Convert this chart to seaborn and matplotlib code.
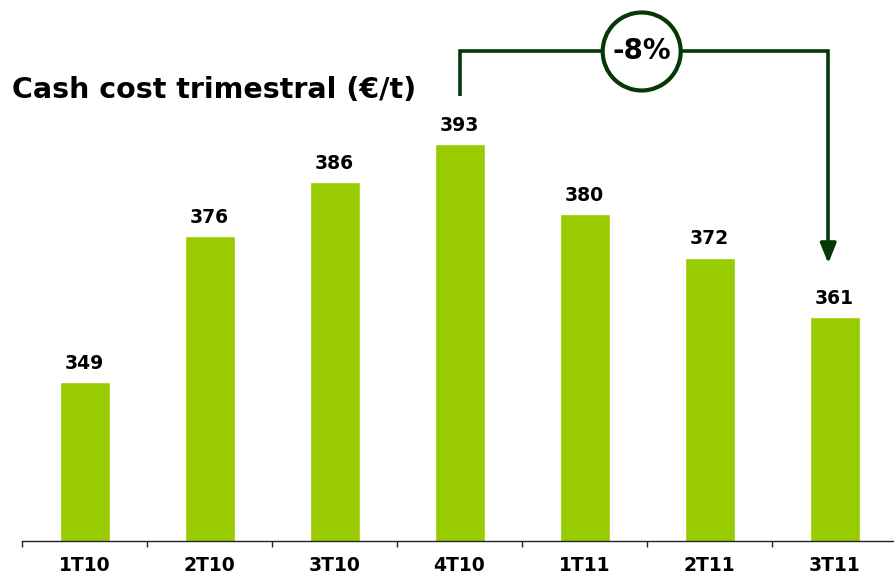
import matplotlib
matplotlib.use("Agg")
import matplotlib.pyplot as plt
import matplotlib.patches as mpatches
from matplotlib.transforms import ScaledTranslation, IdentityTransform
import seaborn as sns
import pandas as pd

quarters = ["1T10", "2T10", "3T10", "4T10", "1T11", "2T11", "3T11"]
cash_cost = [349, 376, 386, 393, 380, 372, 361]
change_label = "-8%"
title = "Cash cost trimestral (€/t)"

BAR = "#99CC00"
DARK = "#063806"

sns.set_theme(style="white")
plt.rcParams['font.family'] = ['DejaVu Sans']

df = pd.DataFrame({"q": quarters, "v": cash_cost})

W, H = 894, 575
fig = plt.figure(figsize=(W / 100, H / 100), dpi=100)
ax = fig.add_axes([22 / W, 34 / H, 872 / W, 541 / H])

sns.barplot(data=df, x="q", y="v", color=BAR, width=0.4, saturation=1, ax=ax, zorder=2)

ax.set_xlim(-0.5, -0.5 + 872 / 125)
ax.set_ylim(319.6, 319.6 + 541 / 5.409)
ax.set_xlabel("")
ax.set_ylabel("")
ax.set_yticks([])
for s in ["top", "right", "left"]:
    ax.spines[s].set_visible(False)
ax.spines["bottom"].set_color("#222222")
ax.spines["bottom"].set_linewidth(1.0)

ax.set_xticks(range(len(quarters)))
ax.set_xticklabels(quarters, fontsize=13.5, fontweight="bold", color="black")
ax.tick_params(axis="x", which="major", length=0, pad=10.5)
ax.set_xticks([i - 0.5 for i in range(len(quarters))], minor=True)
ax.tick_params(axis="x", which="minor", length=4.5, width=1, color="#222222", bottom=True, direction="out")

for i, v in enumerate(cash_cost):
    ax.text(i, v + 1.7, str(v), ha="center", va="bottom", fontsize=13.5, fontweight="bold", color="black")

# title
fig.text(12 / W, 1 - 90 / H, title, ha="left", va="center", fontsize=20.5, fontweight="bold", color="black")

# bracket annotation from 4T10 to 3T11
i0, i1 = quarters.index("4T10"), quarters.index("3T11")
y_top = cash_cost[i0] + 17.1
y_left_bot = cash_cost[i0] + 8.9
y_tip = cash_cost[i1] + 9.9
x1 = i1 - 0.05
ax.plot([i0, i0, x1, x1], [y_left_bot, y_top, y_top, y_tip + 2.5], color=DARK, lw=2.6,
        clip_on=False, zorder=5, solid_joinstyle="miter", solid_capstyle="butt")
ax.annotate("", xy=(x1, y_tip), xytext=(x1, y_tip + 3.2),
            arrowprops=dict(arrowstyle="-|>,head_length=1.0,head_width=0.4", color=DARK, lw=2.6,
                            shrinkA=0, shrinkB=0), annotation_clip=False, zorder=6)

cx = (641.7 - 22) / 125 - 0.5
circ = mpatches.Ellipse((0, 0), 78, 78, facecolor="white", edgecolor=DARK, lw=3, zorder=7)
circ.set_transform(IdentityTransform() + ScaledTranslation(cx, y_top, ax.transData))
circ.set_clip_on(False)
ax.add_artist(circ)
ax.text(cx, y_top, change_label, ha="center", va="center", fontsize=20, fontweight="bold",
        color="black", zorder=8, clip_on=False)

fig.savefig("out.png", dpi=100)
